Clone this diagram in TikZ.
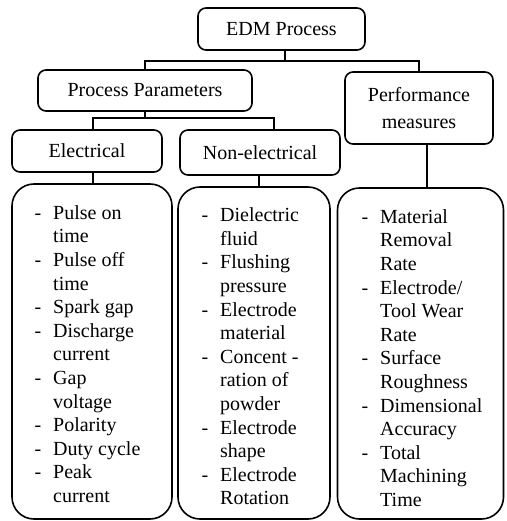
\documentclass[tikz,border=0pt]{standalone}
\usepackage{fontspec}
\setmainfont{Liberation Serif}
\usepackage{array}
\begin{document}
\begin{tikzpicture}[x=1pt,y=-1pt,
  hbox/.style={draw,line width=1.6pt,rounded corners=8pt,inner sep=0pt,
    font=\fontsize{20}{26.7}\selectfont,align=center},
  lbox/.style={draw,line width=1.6pt,rounded corners=22pt,inner sep=0pt},
  list/.style={anchor=base west,inner sep=0pt,font=\fontsize{20}{23.6}\selectfont},
  conn/.style={line width=2.6pt}]
\useasboundingbox (0,0) rectangle (506,521);
\fill[white] (0,0) rectangle (506,521);
% header boxes
\node[hbox,minimum width=167pt,minimum height=42pt] (edm) at (281.5,29) {EDM Process};
\node[hbox,minimum width=214pt,minimum height=41pt] (pp) at (145,90.5) {Process Parameters};
\node[hbox,minimum width=148pt,minimum height=72pt] (pm) at (419,108) {Performance\\measures};
\node[hbox,minimum width=150pt,minimum height=42pt] (el) at (87,151) {Electrical};
\node[hbox,minimum width=160pt,minimum height=45pt] (ne) at (260,152.5) {Non-electrical};
% list boxes
\node[lbox,minimum width=160pt,minimum height=335pt] (b1) at (92,351.5) {};
\node[lbox,minimum width=152pt,minimum height=332pt] (b2) at (254,353) {};
\node[lbox,minimum width=166pt,minimum height=331pt] (b3) at (420.5,353.5) {};
% list texts
\node[list] (t1) at (34.5,219.3) {\begin{tabular}[t]{@{}p{18.5pt}@{}l@{}}
-&Pulse on\\ &time\\ -&Pulse off\\ &time\\ -&Spark gap\\ -&Discharge\\ &current\\
-&Gap\\ &voltage\\ -&Polarity\\ -&Duty cycle\\ -&Peak\\ &current\end{tabular}};
\node[list] (t2) at (201.5,221.6) {\begin{tabular}[t]{@{}p{18.5pt}@{}l@{}}
-&Dielectric\\ &fluid\\ -&Flushing\\ &pressure\\ -&Electrode\\ &material\\
-&Concent -\\ &ration of\\ &powder\\ -&Electrode\\ &shape\\ -&Electrode\\ &Rotation\end{tabular}};
\node[list] (t3) at (361.5,223.3) {\begin{tabular}[t]{@{}p{18.5pt}@{}l@{}}
-&Material\\ &Removal\\ &Rate\\ -&Electrode/\\ &Tool Wear\\ &Rate\\ -&Surface\\ &Roughness\\
-&Dimensional\\ &Accuracy\\ -&Total\\ &Machining\\ &Time\end{tabular}};
% connectors
\coordinate (j1) at (285,61);
\coordinate (j2) at (145,118);
\draw[conn] (edm.south -| j1) -- (j1);
\draw[conn] (j1) -| (pp.north);
\draw[conn] (j1) -| (pm.north);
\draw[conn] (pp.south) -- (j2);
\draw[conn] (j2) -| (el.north -| 93,0);
\draw[conn] (j2) -| (ne.north -| 274,0);
\draw[conn] (el.south -| 93,0) -- (b1.north -| 93,0);
\draw[conn] (ne.south -| 259,0) -- (b2.north -| 259,0);
\draw[conn] (pm.south -| 427,0) -- (b3.north -| 427,0);
\end{tikzpicture}
\end{document}
